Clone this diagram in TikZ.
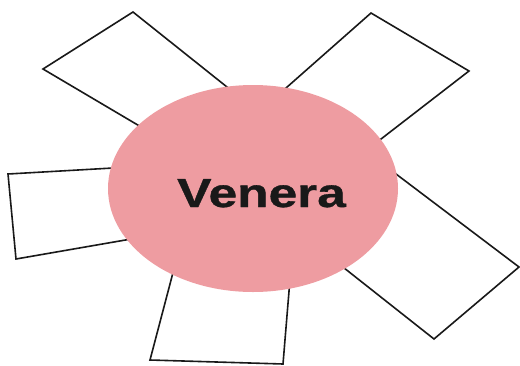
\documentclass[tikz,border=0pt]{standalone}
\usepackage{fontspec}
\setmainfont{Liberation Sans}
\newfontfamily\heavyfont[FakeBold=0.8]{Liberation Sans}
\usetikzlibrary{shapes.geometric}
\definecolor{petal}{RGB}{238,156,161}
\definecolor{ink}{RGB}{25,25,25}
\tikzset{
  card/.style={draw=ink, line width=1.6pt, fill=white, line join=miter},
  core/.style={ellipse, fill=petal, draw=none, inner sep=0pt, minimum width=290pt, minimum height=207pt},
  title/.style={font=\heavyfont\fontsize{40.5}{40.5}\selectfont\bfseries, text=ink, inner sep=0pt, xscale=1.27, transform shape}
}
\begin{document}
\begin{tikzpicture}[x=1pt,y=-1pt]
\useasboundingbox (0,0) rectangle (520,365);
% top-left card
\draw[card] (133,12) -- (43,69) -- (197,160) -- (274,124.5) -- cycle;
% top-right card
\draw[card] (371,13) -- (469,71) -- (328,180) -- (243.5,125.5) -- cycle;
% left card
\draw[card] (148,166) -- (8,174) -- (16,259) -- (160,234) -- cycle;
% bottom card
\draw[card] (185,227) -- (150,360) -- (283,364) -- (292,255) -- cycle;
% bottom-right card
\draw[card] (359,146) -- (519,267) -- (434,339) -- (315,245) -- cycle;
% centre
\node[core] (ven) at (253,188.5) {};
\node[title, anchor=base] (lbl) at (261.5,207) {Venera};
\end{tikzpicture}
\end{document}
